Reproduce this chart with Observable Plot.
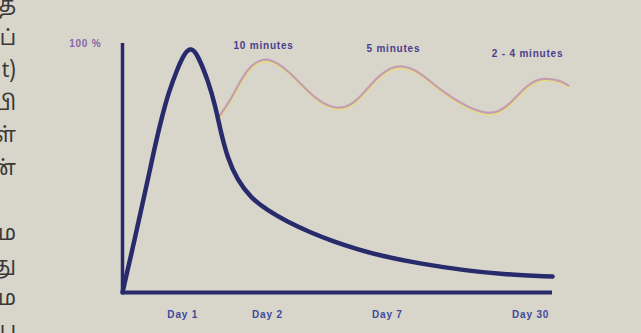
<!DOCTYPE html>
<html><head><meta charset="utf-8">
<script src="https://cdn.jsdelivr.net/npm/d3@7"></script>
<script src="https://cdn.jsdelivr.net/npm/@observablehq/plot@0.6"></script>
<style>
html,body{margin:0;padding:0;background:#d8d5cb;overflow:hidden}
#wrap{position:relative;width:641px;height:333px;background:#d8d5cb}
#chart{position:absolute;left:0;top:0}
.side{position:absolute;left:-30px;width:46px;text-align:right;font-family:"Noto Sans Tamil","Noto Sans","Lohit Tamil",sans-serif;font-size:21px;line-height:24px;color:#3a3836}
</style></head><body><div id="wrap"><div id="side"></div><div id="chart"></div></div>
<script>
// Axis / tick labels
const dayLabels = ["Day 1", "Day 2", "Day 7", "Day 30"];
const dayPos = [14.0, 33.7, 61.6, 94.9];
const topLabel = "100 %";

// Learning curve (blue)
const learnX = [0, 3.0, 5.0, 6.5, 7.7, 9.3, 10.7, 12.8, 14.5, 16.0, 17.5, 20.0, 21.6, 22.8, 24.4, 26.7, 29.8, 33.7, 38.4, 43.7, 49.1, 54.7, 60.0, 69.3, 80.2, 87.9, 100];
const learnY = [0, 23, 39, 51, 61, 72.5, 81.5, 91.5, 98, 100, 97, 86, 76, 66, 55, 46, 38.7, 33.5, 28.8, 24.5, 20.8, 17.6, 15.0, 11.7, 8.9, 7.5, 6.5];

// Review curve (pink)
const reviewX = [22.1, 25.1, 27.4, 29.8, 32.6, 35.1, 38.4, 41.4, 45.3, 49.1, 52.3, 55.3, 60.0, 64.7, 69.3, 74.0, 80.2, 85.6, 89.5, 94.2, 97.9, 101.9, 103.7];
const reviewY = [71.0, 78.4, 86.5, 92.7, 95.5, 94.7, 90.6, 85.3, 78.4, 75.1, 75.5, 79.6, 89.8, 93.5, 89.8, 82.4, 75.5, 72.2, 75.5, 85.3, 87.8, 86.5, 84.5];

// Review labels
const reviewLabels = ["10 minutes", "5 minutes", "2 - 4 minutes"];
const reviewLabelX = [32.8, 63.0, 94.2];
const reviewLabelY = [100.8, 99.6, 97.6];

// Newspaper text column fragments at the left edge
const sideText = ["த", "ப்", "t)", "பி", "ள்", "ன்", "ம", "து", "ம", "ப"];
const sideRow = [0, 1, 2, 3, 4, 5, 7, 8, 9, 10];

const learn = learnX.map((x, i) => ({x, y: learnY[i]}));
const review = reviewX.map((x, i) => ({x, y: reviewY[i]}));
const labels = reviewLabels.map((t, i) => ({t, x: reviewLabelX[i], y: reviewLabelY[i]}));

const navy = "#272b6c";
const chart = Plot.plot({
  width: 641, height: 333,
  marginLeft: 122, marginRight: 89, marginTop: 47, marginBottom: 41,
  x: {domain: [0, 100]},
  y: {domain: [0, 100]},
  style: {background: "transparent", fontFamily: "Liberation Sans, Arial, sans-serif"},
  marks: [
    Plot.line(review, {x: "x", y: "y", curve: "basis", stroke: "#e4dc8c", strokeWidth: 2.5, dy: 1.5, dx: 0.5}),
    Plot.line(review, {x: "x", y: "y", curve: "basis", stroke: "#c49db0", strokeWidth: 2.2}),
    Plot.ruleY([0], {stroke: navy, strokeWidth: 4}),
    Plot.ruleX([0], {y1: 0, y2: 101.6, stroke: navy, strokeWidth: 3.5}),
    Plot.line(learn, {x: "x", y: "y", curve: "basis", stroke: navy, strokeWidth: 4.5}),
    Plot.text(labels, {x: "x", y: "y", text: "t", fill: "#4a3e8c", fontSize: 10, fontWeight: "bold"}),
    Plot.axisX({ticks: dayPos, tickFormat: (d, i) => dayLabels[i], tickSize: 0, tickPadding: 18, fontSize: 10, fontWeight: "bold", fill: "#3e4a9c", label: null}),
    Plot.axisY({ticks: [100], tickFormat: () => topLabel, tickSize: 0, tickPadding: 21, dy: -4, fontSize: 10, fontWeight: "bold", fill: "#8a66aa", label: null})
  ]
});
d3.select(chart).selectAll("text").style("letter-spacing", "0.8px");
document.getElementById("chart").appendChild(chart);

const side = document.getElementById("side");
sideText.forEach((t, i) => {
  const d = document.createElement("div");
  d.className = "side";
  d.textContent = t;
  d.style.top = (-5 + sideRow[i] * 32.5) + "px";
  side.appendChild(d);
});
</script>
</body></html>
